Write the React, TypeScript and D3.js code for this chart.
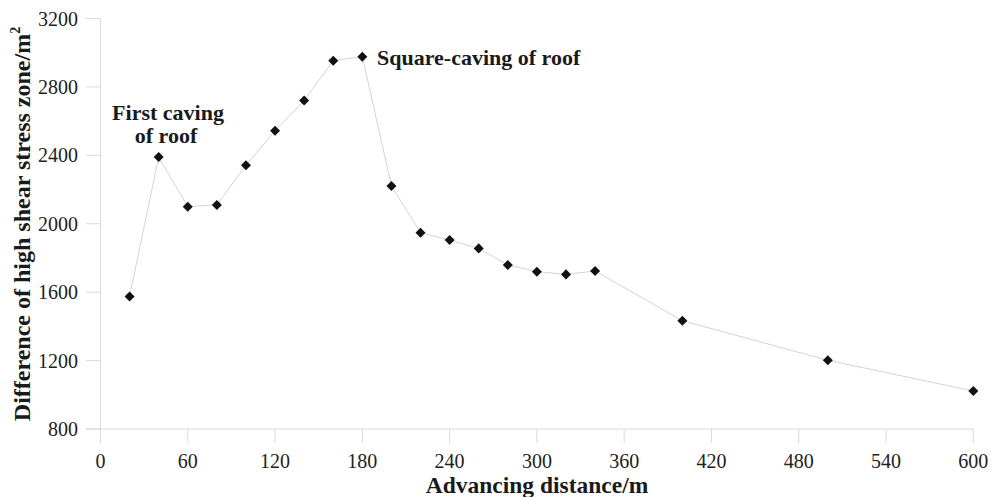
import React, { useEffect, useRef } from "react";
import * as d3 from "d3";

// Advancing distance (m) and difference of high shear stress zone (m²)
const distances = [20, 40, 60, 80, 100, 120, 140, 160, 180, 200, 220, 240, 260, 280, 300, 320, 340, 400, 500, 600];
const areaDiff = [1575, 2390, 2100, 2110, 2342, 2544, 2720, 2953, 2977, 2221, 1948, 1905, 1856, 1759, 1720, 1704, 1724, 1433, 1202, 1022];

const xTicks = [0, 60, 120, 180, 240, 300, 360, 420, 480, 540, 600];
const yTicks = [800, 1200, 1600, 2000, 2400, 2800, 3200];

const W = 1002;
const H = 497;
const FONT = "Liberation Serif, Times New Roman, Times, serif";

export default function App() {
  const ref = useRef<SVGSVGElement | null>(null);

  useEffect(() => {
    const svg = d3.select(ref.current);
    svg.selectAll("*").remove();

    const x = d3.scaleLinear().domain([0, 600]).range([100.5, 973.3]);
    const y = d3.scaleLinear().domain([800, 3200]).range([429, 18.5]);
    const axisColor = "#d9d9d9";

    // Axis lines
    svg.append("line")
      .attr("x1", 86).attr("x2", x(600)).attr("y1", y(800)).attr("y2", y(800))
      .attr("stroke", axisColor).attr("stroke-width", 1);
    svg.append("line")
      .attr("x1", x(0)).attr("x2", x(0)).attr("y1", y(3200)).attr("y2", 443)
      .attr("stroke", axisColor).attr("stroke-width", 1);

    // Y ticks and labels
    const yg = svg.append("g");
    yTicks.forEach((t) => {
      yg.append("line")
        .attr("x1", 86).attr("x2", x(0)).attr("y1", y(t)).attr("y2", y(t))
        .attr("stroke", axisColor).attr("stroke-width", 1);
      yg.append("text")
        .attr("x", 78).attr("y", y(t)).attr("dy", "0.35em")
        .attr("text-anchor", "end")
        .style("font-family", FONT).attr("font-size", 20).attr("fill", "#222")
        .text(String(t));
    });

    // X ticks and labels
    const xg = svg.append("g");
    xTicks.forEach((t) => {
      xg.append("line")
        .attr("x1", x(t)).attr("x2", x(t)).attr("y1", y(800)).attr("y2", 443)
        .attr("stroke", axisColor).attr("stroke-width", 1);
      xg.append("text")
        .attr("x", x(t)).attr("y", 468)
        .attr("text-anchor", "middle")
        .style("font-family", FONT).attr("font-size", 20).attr("fill", "#222")
        .text(String(t));
    });

    // Axis titles
    svg.append("text")
      .attr("x", 537).attr("y", 493)
      .attr("text-anchor", "middle")
      .style("font-family", FONT).attr("font-size", 23.5).attr("font-weight", "bold").attr("fill", "#1a1a1a")
      .text("Advancing distance/m");

    const yt = svg.append("text")
      .attr("transform", `translate(30,224) rotate(-90)`)
      .attr("text-anchor", "middle")
      .style("font-family", FONT).attr("font-size", 24).attr("font-weight", "bold").attr("fill", "#1a1a1a");
    yt.append("tspan").text("Difference of high shear stress zone/m");
    yt.append("tspan").attr("font-size", 14).attr("dy", -10).text("2");

    // Series line
    const pts = distances.map((d, i) => [d, areaDiff[i]] as [number, number]);
    const line = d3.line<[number, number]>().x((d) => x(d[0])).y((d) => y(d[1]));
    svg.append("path")
      .attr("d", line(pts) || "")
      .attr("fill", "none").attr("stroke", "#d4d4d4").attr("stroke-width", 1);

    // Diamond markers
    const diamond = d3.symbol().type(d3.symbolDiamond2).size(64);
    svg.append("g").selectAll("path").data(pts).join("path")
      .attr("d", diamond() || "")
      .attr("transform", (d) => `translate(${x(d[0])},${y(d[1])})`)
      .attr("fill", "#111");

    // Annotations
    const ann = svg.append("g")
      .style("font-family", FONT).attr("font-size", 22).attr("font-weight", "bold").attr("fill", "#1a1a1a");
    ann.append("text").attr("x", 168).attr("y", 120).attr("text-anchor", "middle").text("First caving");
    ann.append("text").attr("x", 166).attr("y", 143).attr("text-anchor", "middle").text("of roof");
    ann.append("text").attr("x", 377).attr("y", 65).attr("text-anchor", "start").text("Square-caving of roof");
  }, []);

  return (
    <div style={{ position: "absolute", left: 0, top: 0 }}>
      <svg ref={ref} width={W} height={H} style={{ display: "block", background: "#fff" }} />
    </div>
  );
}
